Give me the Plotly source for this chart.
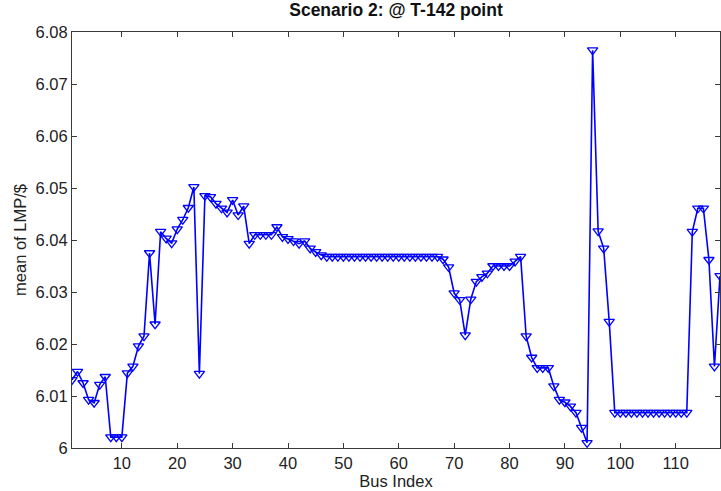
import plotly.graph_objects as go

# Mean LMP per bus, 118-bus system, scenario 2
bus_index = list(range(1, 119))
mean_lmp = [
    6.0131, 6.0147, 6.0125, 6.0093, 6.0087, 6.0122, 6.0137, 6.0021, 6.0021, 6.0021,  # 1-10
    6.0144, 6.0157, 6.0196, 6.0215, 6.0375, 6.0238, 6.0416, 6.0403, 6.0394, 6.0421,  # 11-20
    6.0439, 6.0462, 6.0502, 6.0143, 6.0485, 6.0483, 6.0470, 6.0461, 6.0453, 6.0477,  # 21-30
    6.0448, 6.0465, 6.0393, 6.0410, 6.0410, 6.0410, 6.0410, 6.0425, 6.0406, 6.0402,  # 31-40
    6.0398, 6.0393, 6.0398, 6.0384, 6.0377, 6.0371, 6.0368, 6.0368, 6.0368, 6.0368,  # 41-50
    6.0368, 6.0368, 6.0368, 6.0368, 6.0368, 6.0368, 6.0368, 6.0368, 6.0368, 6.0368,  # 51-60
    6.0368, 6.0368, 6.0368, 6.0368, 6.0368, 6.0368, 6.0368, 6.0363, 6.0348, 6.0298,  # 61-70
    6.0285, 6.0217, 6.0286, 6.0320, 6.0329, 6.0336, 6.0350, 6.0350, 6.0350, 6.0350,  # 71-80
    6.0359, 6.0368, 6.0215, 6.0174, 6.0154, 6.0154, 6.0154, 6.0119, 6.0093, 6.0088,  # 81-90
    6.0080, 6.0068, 6.0039, 6.0010, 6.0765, 6.0417, 6.0384, 6.0243, 6.0068, 6.0068,  # 91-100
    6.0068, 6.0068, 6.0068, 6.0068, 6.0068, 6.0068, 6.0068, 6.0068, 6.0068, 6.0068,  # 101-110
    6.0068, 6.0068, 6.0416, 6.0461, 6.0461, 6.0362, 6.0157, 6.0331,                  # 111-118
]

x_ticks = [10, 20, 30, 40, 50, 60, 70, 80, 90, 100, 110]
y_ticks = [6.00, 6.01, 6.02, 6.03, 6.04, 6.05, 6.06, 6.07, 6.08]
y_tick_text = ["6", "6.01", "6.02", "6.03", "6.04", "6.05", "6.06", "6.07", "6.08"]

font_family = "Liberation Sans, Arial, Helvetica, sans-serif"
text_color = "#222222"
axis_color = "#3a3a3a"

fig = go.Figure(
    go.Scatter(
        x=bus_index,
        y=mean_lmp,
        mode="lines+markers",
        line=dict(color="#0000ff", width=1.6),
        marker=dict(
            symbol="triangle-down-open",
            size=9,
            color="#0000ff",
            line=dict(color="#0000ff", width=1.3),
        ),
        showlegend=False,
    )
)

axis_common = dict(
    showgrid=False,
    zeroline=False,
    showline=True,
    linecolor=axis_color,
    linewidth=1,
    mirror="allticks",
    ticks="inside",
    ticklen=5,
    tickcolor=axis_color,
    tickfont=dict(family=font_family, size=16.5, color=text_color),
)

fig.update_xaxes(
    range=[1, 118],
    tickmode="array",
    tickvals=x_ticks,
    title=dict(text="Bus Index", font=dict(family=font_family, size=16.5, color=text_color), standoff=0),
    **axis_common,
)
fig.update_yaxes(
    range=[6.0, 6.08],
    tickmode="array",
    tickvals=y_ticks,
    ticktext=y_tick_text,
    title=dict(text="mean of LMP/$", font=dict(family=font_family, size=16.5, color=text_color), standoff=4),
    **axis_common,
)

fig.update_layout(
    width=721,
    height=491,
    margin=dict(l=72, r=1, t=32, b=43),
    paper_bgcolor="white",
    plot_bgcolor="white",
    title=dict(
        text="<b>Scenario 2: @ T-142 point</b>",
        font=dict(family=font_family, size=17.5, color="#111111"),
        x=0.5,
        xanchor="center",
        xref="paper",
        y=1 - 10 / 491,
        yanchor="middle",
    ),
)

fig.write_html("out.html")
